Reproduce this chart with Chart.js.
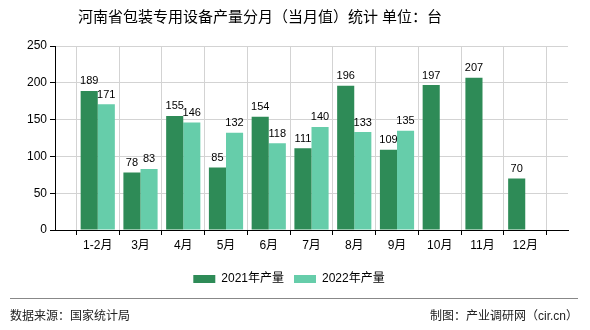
<!DOCTYPE html>
<html>
<head>
<meta charset="utf-8">
<script src="https://cdn.jsdelivr.net/npm/chart.js@4"></script>
<style>
  html, body { margin: 0; padding: 0; background: #fff; }
  #wrap { width: 590px; height: 330px; position: relative; }
</style>
</head>
<body>
<div id="wrap"><canvas id="chart" width="590" height="330"></canvas></div>
<script>
// chart data
const months = ["", "1-2月", "3月", "4月", "5月", "6月", "7月", "8月", "9月", "10月", "11月", "12月", ""];
const output2021 = [null, 189, 78, 155, 85, 154, 111, 196, 109, 197, 207, 70, null];
const output2022 = [null, 171, 83, 146, 132, 118, 140, 133, 135, null, null, null, null];
const yTicks = [0, 50, 100, 150, 200, 250];

const titleText = "河南省包装专用设备产量分月（当月值）统计 单位：台";
const sourceText = "数据来源：国家统计局";
const makerText = "制图：产业调研网（cir.cn）";

const FONT = '"Liberation Sans", "Noto Sans CJK SC", sans-serif';

// labels above bars + title + footer
const extras = {
  id: "extras",
  afterDatasetsDraw(chart) {
    const ctx = chart.ctx;
    ctx.save();
    ctx.font = "11px " + FONT;
    ctx.fillStyle = "#000";
    ctx.textAlign = "center";
    ctx.textBaseline = "bottom";
    chart.data.datasets.forEach((ds, di) => {
      const meta = chart.getDatasetMeta(di);
      meta.data.forEach((bar, i) => {
        if (ds.data[i] == null) return;
        ctx.fillText(ds.data[i], bar.x, bar.y - 4);
      });
    });
    ctx.restore();
  },
  afterDraw(chart) {
    const ctx = chart.ctx;
    ctx.save();
    ctx.fillStyle = "#000";
    ctx.font = "15px " + FONT;
    ctx.textAlign = "center";
    ctx.textBaseline = "middle";
    ctx.fillText(titleText, 260, 18);

    ctx.strokeStyle = "#888";
    ctx.lineWidth = 1;
    ctx.beginPath();
    ctx.moveTo(10, 298.5);
    ctx.lineTo(578, 298.5);
    ctx.stroke();

    ctx.font = "12px " + FONT;
    ctx.fillStyle = "#222";
    ctx.textAlign = "left";
    ctx.fillText(sourceText, 10, 317);
    ctx.textAlign = "right";
    ctx.fillText(makerText, 578, 317);
    ctx.restore();
  }
};

new Chart(document.getElementById("chart"), {
  type: "bar",
  data: {
    labels: months,
    datasets: [
      { label: "2021年产量", data: output2021, backgroundColor: "#2e8b57" },
      { label: "2022年产量", data: output2022, backgroundColor: "#66cdaa" }
    ]
  },
  options: {
    responsive: false,
    animation: false,
    layout: { padding: { left: 10, right: 22, top: 46, bottom: 35 } },
    datasets: { bar: { categoryPercentage: 0.8, barPercentage: 1.0 } },
    plugins: {
      title: { display: false },
      tooltip: { enabled: false },
      legend: {
        position: "bottom",
        labels: {
          boxWidth: 22,
          boxHeight: 8,
          padding: 10,
          color: "#000",
          font: { size: 12, family: FONT }
        }
      }
    },
    scales: {
      x: {
        offset: false,
        grid: { color: "#d3d3d3", tickLength: 5, tickColor: "#000" },
        border: { color: "#000" },
        ticks: { color: "#000", font: { size: 12, family: FONT }, maxRotation: 0, autoSkip: false, padding: 3 },
        afterFit(s) { s.height = 33; }
      },
      y: {
        min: 0,
        max: 250,
        afterBuildTicks(s) { s.ticks = yTicks.map(v => ({ value: v })); },
        grid: { color: "#d3d3d3", tickLength: 5, tickColor: "#000" },
        border: { color: "#000" },
        ticks: { color: "#000", font: { size: 12, family: FONT }, padding: 3 },
        afterFit(s) { s.width = 45; }
      }
    }
  },
  plugins: [extras]
});
</script>
</body>
</html>
